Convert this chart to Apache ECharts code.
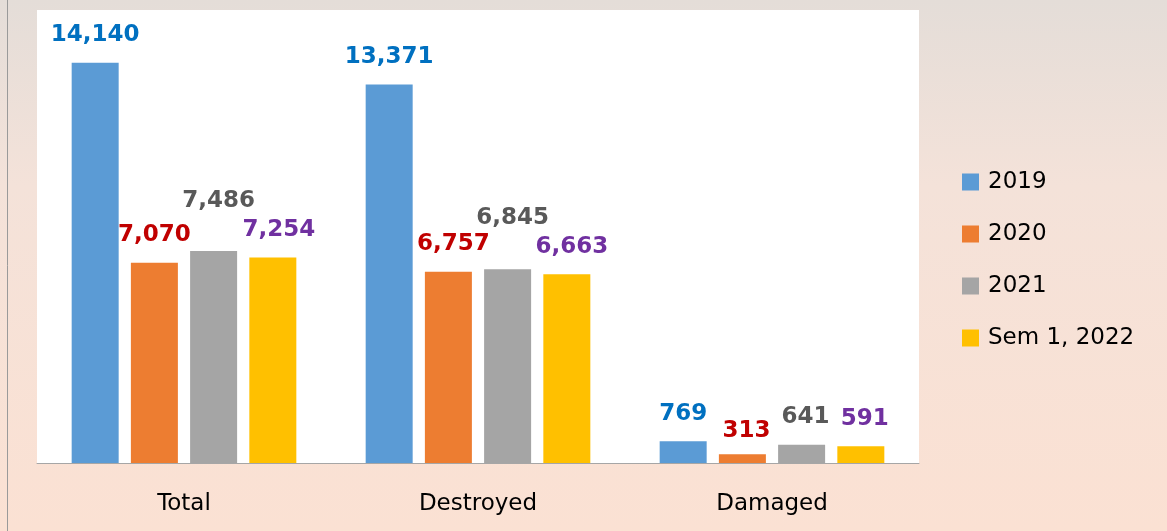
<!DOCTYPE html>
<html>
<head>
<meta charset="utf-8">
<script src="https://cdn.jsdelivr.net/npm/echarts@6/dist/echarts.min.js"></script>
<style>
html,body{margin:0;padding:0;}
#c{width:1167px;height:531px;}
</style>
</head>
<body>
<div id="c"></div>
<script>
const categories = ['Total', 'Destroyed', 'Damaged'];
const seriesNames = ['2019', '2020', '2021', 'Sem 1, 2022'];
const v2019 = [14140, 13371, 769];
const v2020 = [7070, 6757, 313];
const v2021 = [7486, 6845, 641];
const v2022 = [7254, 6663, 591];

const barColors = ['#5b9bd5', '#ed7d31', '#a5a5a5', '#ffc000'];
const labelColors = ['#0070c0', '#c00000', '#595959', '#7030a0'];
const labelOffsets = [
  [[0,0],[0,0],[0,0]],
  [[0,0],[5,0],[4,4]],
  [[5,-23],[5,-24],[4,0]],
  [[6,0],[5,0],[4,0]]
];
const FONT = '"Comic Sans MS", "DejaVu Sans", sans-serif';
const allValues = [v2019, v2020, v2021, v2022];

const chart = echarts.init(document.getElementById('c'));
chart.setOption({
  animation: false,
  backgroundColor: {
    type: 'linear', x: 0, y: 0, x2: 0, y2: 1,
    colorStops: [
      {offset: 0, color: '#e4ddd8'},
      {offset: 0.35, color: '#f4e2d9'},
      {offset: 1, color: '#fbe1d3'}
    ]
  },
  graphic: [{
    type: 'line', shape: {x1: 7.5, y1: 0, x2: 7.5, y2: 531},
    style: {stroke: '#9a9a9a', lineWidth: 1}
  }],
  grid: {left: 37, right: 248, top: 10, bottom: 68, show: true, backgroundColor: '#ffffff', borderWidth: 0},
  legend: {
    orient: 'vertical', left: 957, top: 165,
    itemWidth: 17, itemHeight: 17, itemGap: 28, icon: 'rect',
    textStyle: {fontFamily: FONT, fontSize: 23, color: '#000', lineHeight: 24, padding: [0,0,0,4]},
    data: seriesNames
  },
  xAxis: {
    type: 'category', data: categories,
    axisLine: {lineStyle: {color: '#a6a6a6', width: 1}},
    axisTick: {show: false},
    axisLabel: {fontFamily: FONT, fontSize: 23, color: '#000', margin: 30}
  },
  yAxis: {type: 'value', min: 0, max: 16000, show: false, splitLine: {show: false}},
  series: seriesNames.map((name, i) => ({
    name: name, type: 'bar', barWidth: 47, barGap: '26%',
    itemStyle: {color: barColors[i]},
    data: allValues[i].map((v, j) => ({
      value: v,
      label: {offset: labelOffsets[i][j]}
    })),
    label: {
      show: true, position: 'top', distance: 16,
      fontFamily: FONT, fontSize: 23, fontWeight: 'bold', color: labelColors[i],
      formatter: p => p.value.toLocaleString('en-US')
    }
  }))
});
</script>
</body>
</html>
